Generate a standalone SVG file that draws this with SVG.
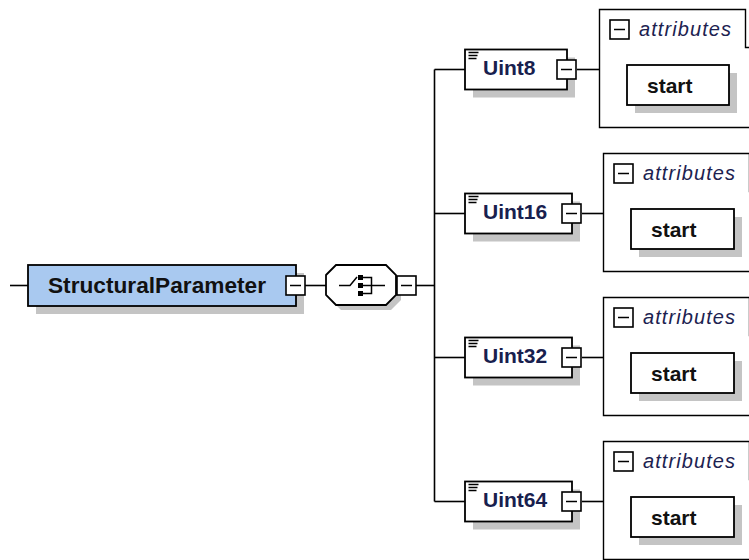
<svg xmlns="http://www.w3.org/2000/svg" width="749" height="560" viewBox="0 0 749 560">
  <style>
    .bg { fill: #ffffff; }
    .line { fill: none; stroke: #000; stroke-width: 1.6; }
    .box { fill: #ffffff; stroke: #000; stroke-width: 1.8; }
    .root { fill: #a9c9f0; stroke: #000; stroke-width: 1.8; }
    .shadow { fill: #c4c4c4; }
    .frame { fill: #ffffff; stroke: #000; stroke-width: 1.4; }
    .exp { fill: #ffffff; stroke: #000; stroke-width: 1.6; }
    .name { font-family: "Liberation Sans", Arial, sans-serif; font-weight: bold; fill: #111; }
    .elem { font-family: "Liberation Sans", Arial, sans-serif; font-weight: bold; font-size: 21px; fill: #18204e; }
    .attr { font-family: "Liberation Sans", Arial, sans-serif; font-style: italic; font-size: 20px; fill: #1c2250; }
    .ico { fill: none; stroke: #000; stroke-width: 1.5; }
  </style>
  <defs>
    <!-- collapse button: white square with a minus -->
    <g id="minus">
      <rect class="exp" x="0" y="0" width="19" height="19"/>
      <path class="ico" d="M4,9.5 H15"/>
    </g>
    <!-- "simple content" marker at the top-left of element boxes -->
    <g id="lines">
      <path class="ico" d="M0,0 H10 M0,3 H9 M0,6 H8"/>
    </g>
  </defs>
  <rect class="bg" x="0" y="0" width="749" height="560"/>

  <!-- connectors -->
  <g id="connectors">
    <path class="line" d="M10,285.5 H28"/>
    <path class="line" d="M305,285.5 H326"/>
    <path class="line" d="M416,285.5 H434.5"/>
    <path class="line" d="M434.5,69.5 V501.5"/>
    <path class="line" d="M434.5,69.5 H465"/>
    <path class="line" d="M434.5,213.5 H465"/>
    <path class="line" d="M434.5,357.5 H465"/>
    <path class="line" d="M434.5,501.5 H465"/>
    <path class="line" d="M577,69.5 H599.5"/>
    <path class="line" d="M582,213.5 H603.5"/>
    <path class="line" d="M582,357.5 H603.5"/>
    <path class="line" d="M582,501.5 H603.5"/>
  </g>

  <!-- root element -->
  <g id="StructuralParameter">
    <rect class="shadow" x="36" y="273" width="268" height="41"/>
    <rect class="root" x="28" y="265" width="268" height="41"/>
    <text class="name" x="48" y="293" font-size="22" textLength="218" lengthAdjust="spacingAndGlyphs">StructuralParameter</text>
    <use href="#minus" x="286" y="276"/>
  </g>

  <!-- choice compositor -->
  <g id="choice">
    <polygon class="shadow" points="331,280 341,270 391,270 401,280 401,300 391,310 341,310 331,300"/>
    <polygon class="box" points="326,275 336,265 386,265 396,275 396,295 386,305 336,305 326,295"/>
    <path class="ico" d="M339,285.5 H350 L357,277"/>
    <rect x="358" y="275" width="5" height="5" fill="#000"/>
    <rect x="358" y="283" width="5" height="5" fill="#000"/>
    <rect x="358" y="291" width="5" height="5" fill="#000"/>
    <path class="ico" d="M363,277.5 H371.5 V293.5 H363 M363,285.5 H385"/>
    <use href="#minus" x="397" y="276"/>
  </g>

  <!-- Uint8 -->
  <g id="Uint8">
    <rect class="shadow" x="473" y="57.5" width="102" height="40"/>
    <rect class="box" x="465" y="49.5" width="102" height="40"/>
    <use href="#lines" x="468.5" y="52.5"/>
    <text class="elem" x="483" y="74.5">Uint8</text>
    <use href="#minus" x="557" y="60"/>
  </g>
  <g id="Uint8-attributes">
    <path class="frame" d="M760,47.5 H745.5 V9.5 H599.5 V127.5 H760"/>
    <use href="#minus" x="610" y="20"/>
    <text class="attr" x="639" y="35.5" textLength="92" lengthAdjust="spacing">attributes</text>
    <rect class="shadow" x="635" y="73" width="102" height="40"/>
    <rect class="box" x="627" y="65" width="102" height="40"/>
    <text class="name" x="647" y="93" font-size="21">start</text>
  </g>

  <!-- Uint16 -->
  <g id="Uint16">
    <rect class="shadow" x="473" y="201.5" width="107" height="40"/>
    <rect class="box" x="465" y="193.5" width="107" height="40"/>
    <use href="#lines" x="468.5" y="196.5"/>
    <text class="elem" x="483" y="218.5">Uint16</text>
    <use href="#minus" x="562" y="204"/>
  </g>
  <g id="Uint16-attributes">
    <path class="frame" d="M760,191.5 H749.5 V153.5 H603.5 V271.5 H760"/>
    <use href="#minus" x="614" y="164"/>
    <text class="attr" x="643" y="179.5" textLength="92" lengthAdjust="spacing">attributes</text>
    <rect class="shadow" x="639" y="217" width="103" height="40"/>
    <rect class="box" x="631" y="209" width="103" height="40"/>
    <text class="name" x="651" y="237" font-size="21">start</text>
  </g>

  <!-- Uint32 -->
  <g id="Uint32">
    <rect class="shadow" x="473" y="345.5" width="107" height="40"/>
    <rect class="box" x="465" y="337.5" width="107" height="40"/>
    <use href="#lines" x="468.5" y="340.5"/>
    <text class="elem" x="483" y="362.5">Uint32</text>
    <use href="#minus" x="562" y="348"/>
  </g>
  <g id="Uint32-attributes">
    <path class="frame" d="M760,335.5 H749.5 V297.5 H603.5 V415.5 H760"/>
    <use href="#minus" x="614" y="308"/>
    <text class="attr" x="643" y="323.5" textLength="92" lengthAdjust="spacing">attributes</text>
    <rect class="shadow" x="639" y="361" width="103" height="40"/>
    <rect class="box" x="631" y="353" width="103" height="40"/>
    <text class="name" x="651" y="381" font-size="21">start</text>
  </g>

  <!-- Uint64 -->
  <g id="Uint64">
    <rect class="shadow" x="473" y="489.5" width="107" height="40"/>
    <rect class="box" x="465" y="481.5" width="107" height="40"/>
    <use href="#lines" x="468.5" y="484.5"/>
    <text class="elem" x="483" y="506.5">Uint64</text>
    <use href="#minus" x="562" y="492"/>
  </g>
  <g id="Uint64-attributes">
    <path class="frame" d="M760,479.5 H749.5 V441.5 H603.5 V559.5 H760"/>
    <use href="#minus" x="614" y="452"/>
    <text class="attr" x="643" y="467.5" textLength="92" lengthAdjust="spacing">attributes</text>
    <rect class="shadow" x="639" y="505" width="103" height="40"/>
    <rect class="box" x="631" y="497" width="103" height="40"/>
    <text class="name" x="651" y="525" font-size="21">start</text>
  </g>
</svg>
